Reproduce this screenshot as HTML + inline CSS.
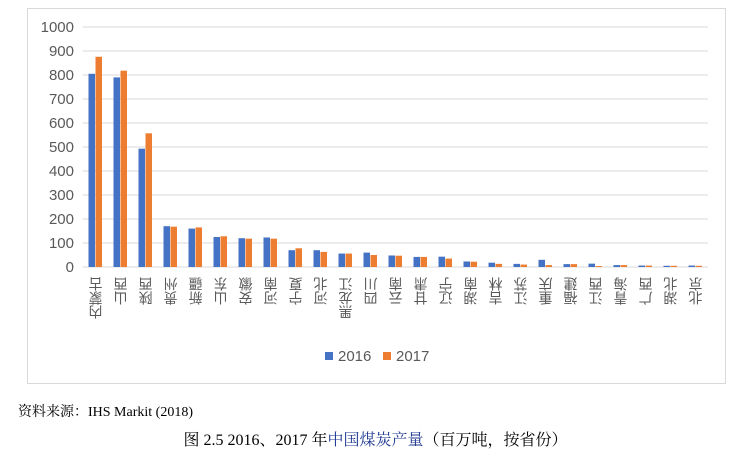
<!DOCTYPE html>
<html><head><meta charset="utf-8"><style>
body{margin:0;width:751px;height:456px;background:#fff;overflow:hidden;font-family:"Liberation Sans","Noto Sans CJK SC",sans-serif}
#box{position:absolute;left:27px;top:8px;width:697px;height:374px;border:1px solid #d9d9d9}
.src{position:absolute;left:18px;top:401px;font-size:14px;font-family:"Liberation Serif","Noto Serif CJK SC",serif;color:#000}
.cap{position:absolute;left:0;width:751px;text-align:center;top:427px;font-size:16px;font-family:"Liberation Serif","Noto Serif CJK SC",serif}
</style></head><body>
<div id="box"></div>
<svg id="c" width="751" height="456" style="position:absolute;left:0;top:0"></svg>
<div class="src">资料来源：IHS Markit (2018)</div>
<div class="cap">图 2.5 2016、2017 年<span style="color:#1f3a93">中国煤炭产量</span>（百万吨，按省份）</div>
<script>
const categories=["内蒙古","山西","陕西","贵州","新疆","山东","安徽","河南","宁夏","河北","黑龙江","四川","云南","甘肃","辽宁","湖南","吉林","江苏","重庆","福建","江西","青海","广西","湖北","北京"];
const s2016=[805,790,493,170,160,125,120,123,70,70,56,60,48,42,43,23,18,13,30,12,14,8,6,5,6];
const s2017=[876,818,557,168,165,128,118,118,78,63,56,50,47,42,35,22,13,10,8,12,4,8,6,5,5];
const ticks=[0,100,200,300,400,500,600,700,800,900,1000];
const svg=document.getElementById('c');const NS='http://www.w3.org/2000/svg';
const x0=83,pw=625,y0=267,ph=240,max=1000;
const y=v=>y0-v/max*ph;const bw=pw/categories.length;
function mk(t,a){const e=document.createElementNS(NS,t);for(const k in a)e.setAttribute(k,a[k]);svg.appendChild(e);return e;}
ticks.forEach(t=>{
const l=mk('line',{x1:x0,x2:x0+pw,y1:y(t),y2:y(t),stroke:'#d9d9d9','stroke-width':1});


const tx=mk('text',{x:74,y:y(t)+5,'text-anchor':'end','font-size':15,fill:'#595959'});tx.textContent=t;


});
categories.forEach((c,i)=>{
const cx=x0+bw*(i+0.5);
const b1=mk('rect',{x:cx-7,y:y(s2016[i]),width:6.5,height:y0-y(s2016[i]),fill:'#4472c4'});


const b2=mk('rect',{x:cx,y:y(s2017[i]),width:6.5,height:y0-y(s2017[i]),fill:'#ed7d31'});


const t=mk('text',{x:cx,y:277,'font-size':14,fill:'#595959','writing-mode':'tb','glyph-orientation-vertical':0,transform:`rotate(180 ${cx} ${277+c.length*7})`,'font-family':'Noto Sans CJK SC, sans-serif'});
t.textContent=c;


});
const lg=[['#4472c4','2016',325],['#ed7d31','2017',383]];
lg.forEach(([col,lab,lx])=>{
const r=mk('rect',{x:lx,y:352,width:8,height:8,fill:col});


const t=mk('text',{x:lx+13,y:361,'font-size':15,fill:'#595959'});t.textContent=lab;


});
</script>
</body></html>
